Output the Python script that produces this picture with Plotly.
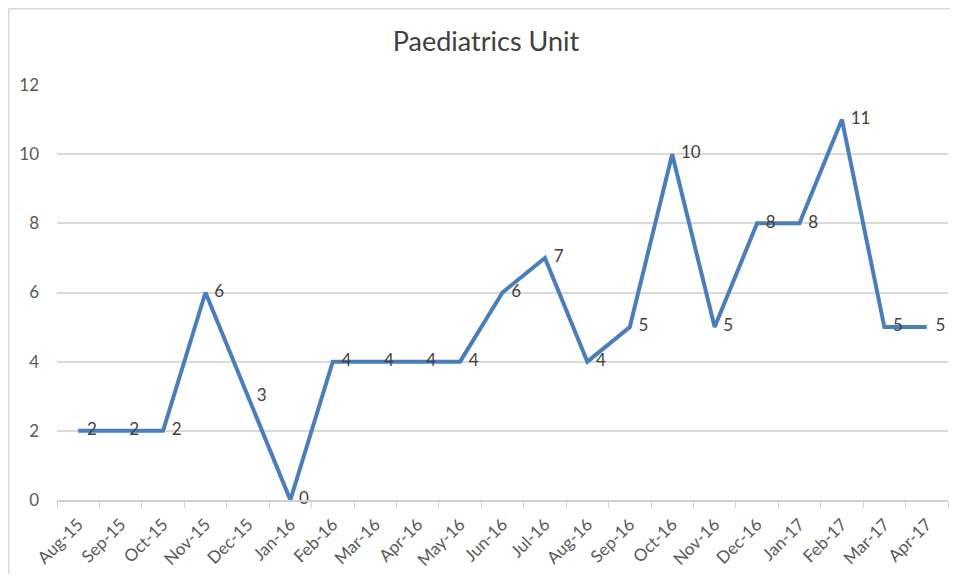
import plotly.graph_objects as go

months = ["Aug-15", "Sep-15", "Oct-15", "Nov-15", "Dec-15", "Jan-16", "Feb-16",
          "Mar-16", "Apr-16", "May-16", "Jun-16", "Jul-16", "Aug-16", "Sep-16",
          "Oct-16", "Nov-16", "Dec-16", "Jan-17", "Feb-17", "Mar-17", "Apr-17"]
counts = [2, 2, 2, 6, 3, 0, 4, 4, 4, 4, 6, 7, 4, 5, 10, 5, 8, 8, 11, 5, 5]
y_ticks = [0, 2, 4, 6, 8, 10, 12]

# page body has an 8px margin; compensate so the plot lands where the reference is
OFF = 8
W, H = 958 - 2 * OFF, 582 - 2 * OFF
L, T = 57 - OFF, 85 - OFF
pw = 948 - 57
ph = 500 - 85
R = W - L - pw
B = H - T - ph

FONT = "Lato, Open Sans, sans-serif"

fig = go.Figure()
fig.add_trace(go.Scatter(
    x=months, y=counts, mode="lines+text",
    line=dict(color="#4a7ebb", width=4),
    text=["  " + str(v) for v in counts],
    textposition="middle right",
    textfont=dict(family=FONT, size=17, color="#404040"),
    cliponaxis=False, showlegend=False,
))

fig.update_layout(
    width=W, height=H,
    margin=dict(l=L, r=R, t=T, b=B),
    paper_bgcolor="white", plot_bgcolor="white",
    title=dict(text="Paediatrics Unit", x=(486 - OFF) / W, xanchor="center",
               y=1 - (42 - OFF) / H, yanchor="middle",
               font=dict(family=FONT, size=27, color="#404040")),
    font=dict(family=FONT, color="#595959"),
    xaxis=dict(
        type="category", tickangle=-45, tickson="boundaries",
        ticks="outside", ticklen=6, tickcolor="#d0d0d0",
        showline=True, linecolor="#d0d0d0", linewidth=1.5,
        showgrid=False, tickfont=dict(size=17, color="#595959"),
        ticklabelstandoff=6,
        range=[-0.5, len(months) - 0.5],
    ),
    yaxis=dict(
        range=[0, 12], tickvals=y_ticks, showgrid=True, gridcolor="#d9d9d9", gridwidth=1.5,
        zeroline=False, showline=False, ticks="", ticklabelstandoff=17,
        tickfont=dict(size=17, color="#595959"),
    ),
)

top_y = (H - B - 0.5) / ph
left_x = (0.5 - L) / pw
bottom_y = -B / ph
fig.layout.shapes = [
    dict(type="line", xref="paper", yref="paper", x0=left_x, x1=(W - L) / pw,
         y0=top_y, y1=top_y, line=dict(color="#d9d9d9", width=2)),
    dict(type="line", xref="paper", yref="paper", x0=left_x, x1=left_x,
         y0=bottom_y, y1=top_y, line=dict(color="#d9d9d9", width=2)),
]

fig.write_html("out.html")
